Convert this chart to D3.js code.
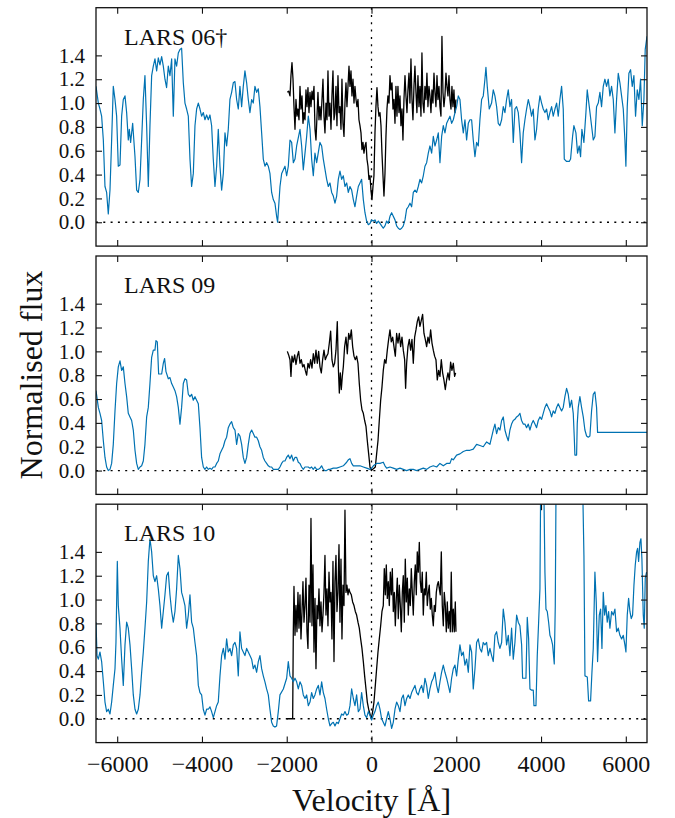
<!DOCTYPE html>
<html>
<head>
<meta charset="utf-8">
<script src="https://cdn.jsdelivr.net/npm/d3@7"></script>
<style>
  body { margin: 0; background: #fff; }
  text { font-family: "Liberation Serif", "Times New Roman", serif; fill: #111; }
</style>
</head>
<body>
<div id="chart"></div>
<script>
// Ly-alpha velocity profiles: wide (blue) and narrow (black) spectra for three galaxies
const panelNames = ["LARS 06\u2020", "LARS 09", "LARS 10"];
const xTicks = [-6000, -4000, -2000, 0, 2000, 4000, 6000];
const yTicks = [0.0, 0.2, 0.4, 0.6, 0.8, 1.0, 1.2, 1.4];

const lars06Blue = [[-6500,1.14],[-6445,1.0],[-6406,0.95],[-6367,0.89],[-6327,0.69],[-6288,0.30],[-6249,0.25],[-6210,0.07],[-6170,0.27],[-6131,0.69],[-6092,1.14],[-6052,1.03],[-6013,0.89],[-5974,0.47],[-5934,0.48],[-5895,0.89],[-5856,1.03],[-5816,1.06],[-5777,0.92],[-5738,0.69],[-5714,0.78],[-5683,0.67],[-5635,0.83],[-5580,0.55],[-5541,0.27],[-5502,0.25],[-5462,0.36],[-5423,0.69],[-5384,1.03],[-5345,1.23],[-5305,0.81],[-5266,0.30],[-5227,0.81],[-5187,1.23],[-5148,1.31],[-5109,1.37],[-5069,1.27],[-5030,1.38],[-4991,1.32],[-4951,1.39],[-4912,1.31],[-4873,1.20],[-4834,1.13],[-4794,1.31],[-4755,1.23],[-4715,1.37],[-4676,0.89],[-4637,1.37],[-4598,1.31],[-4558,1.42],[-4519,1.45],[-4480,1.46],[-4440,1.17],[-4401,1.0],[-4362,0.95],[-4322,0.89],[-4283,0.53],[-4244,0.30],[-4204,0.41],[-4165,0.81],[-4126,0.95],[-4086,1.0],[-4047,0.95],[-4008,0.89],[-3968,0.92],[-3929,0.86],[-3890,0.90],[-3850,0.86],[-3811,0.90],[-3772,0.81],[-3733,0.53],[-3693,0.30],[-3654,0.47],[-3615,0.78],[-3575,0.47],[-3536,0.27],[-3496,0.41],[-3457,0.75],[-3418,0.64],[-3379,0.78],[-3340,1.03],[-3300,1.09],[-3261,1.17],[-3222,1.18],[-3182,1.03],[-3143,0.95],[-3104,1.14],[-3064,0.97],[-3025,1.14],[-2986,1.27],[-2946,1.17],[-2907,1.03],[-2868,0.92],[-2828,1.03],[-2789,1.0],[-2750,1.14],[-2710,1.09],[-2671,1.12],[-2632,0.97],[-2592,0.75],[-2553,0.53],[-2514,0.47],[-2474,0.50],[-2435,0.47],[-2396,0.41],[-2356,0.25],[-2317,0.19],[-2278,0.16],[-2238,0.05],[-2215,0.0],[-2159,0.30],[-2119,0.41],[-2041,0.47],[-2002,0.39],[-1963,0.47],[-1923,0.69],[-1884,0.67],[-1844,0.50],[-1805,0.53],[-1766,0.64],[-1687,0.78],[-1648,0.64],[-1609,0.44],[-1569,0.58],[-1530,0.72],[-1491,0.89],[-1451,0.78],[-1412,0.53],[-1373,0.39],[-1334,0.58],[-1294,0.50],[-1216,0.67],[-1176,0.64],[-1137,0.53],[-1058,0.36],[-1019,0.30],[-980,0.33],[-940,0.25],[-901,0.22],[-862,0.16],[-822,0.22],[-783,0.36],[-744,0.43],[-704,0.36],[-665,0.39],[-626,0.30],[-586,0.33],[-547,0.25],[-508,0.30],[-468,0.27],[-429,0.19],[-390,0.13],[-351,0.22],[-311,0.30],[-272,0.33],[-233,0.36],[-193,0.19],[-154,0.08],[-115,0.01],[-75,-0.02],[-36,-0.01],[3,0.02],[43,0.01],[82,0.02],[121,-0.01],[161,0.01],[200,-0.01],[239,-0.03],[278,-0.05],[318,-0.03],[357,0.01],[397,-0.01],[436,0.05],[475,0.08],[514,0.05],[554,0.02],[593,-0.03],[632,-0.05],[672,-0.06],[711,-0.05],[750,-0.03],[790,0.02],[829,0.11],[868,0.13],[908,0.16],[947,0.13],[986,0.25],[1026,0.27],[1065,0.25],[1104,0.30],[1143,0.36],[1183,0.33],[1222,0.39],[1261,0.47],[1301,0.50],[1340,0.58],[1379,0.64],[1419,0.58],[1458,0.72],[1497,0.64],[1537,0.69],[1576,0.75],[1615,0.50],[1655,0.72],[1694,0.81],[1733,0.75],[1773,0.83],[1812,0.86],[1851,0.89],[1891,0.83],[1930,0.86],[1969,0.92],[2008,0.97],[2048,1.06],[2087,1.03],[2126,0.86],[2166,0.75],[2205,0.86],[2244,0.69],[2284,0.83],[2323,0.86],[2362,0.86],[2401,0.69],[2441,0.55],[2480,0.67],[2519,0.64],[2558,0.86],[2598,1.03],[2637,1.06],[2676,1.20],[2700,1.30],[2731,1.14],[2778,0.95],[2833,1.0],[2873,1.11],[2912,1.06],[2952,0.97],[2991,0.83],[3030,0.81],[3070,0.86],[3109,0.97],[3148,0.92],[3187,1.03],[3227,1.11],[3266,0.97],[3305,1.03],[3345,0.67],[3384,0.95],[3423,0.97],[3463,0.92],[3502,0.75],[3541,0.50],[3580,0.75],[3620,0.86],[3659,0.95],[3699,1.03],[3738,0.97],[3777,0.89],[3816,0.95],[3856,0.69],[3895,0.78],[3934,0.95],[3974,1.06],[4013,1.0],[4052,0.95],[4092,0.92],[4131,0.95],[4170,0.86],[4210,0.92],[4249,0.97],[4288,0.89],[4328,0.95],[4367,1.0],[4406,0.89],[4445,1.03],[4485,1.14],[4524,0.95],[4548,0.53],[4603,0.51],[4666,0.51],[4697,0.53],[4744,0.72],[4775,0.81],[4823,0.75],[4862,0.58],[4901,0.64],[4933,0.55],[4964,0.78],[5011,0.67],[5059,0.92],[5090,1.11],[5138,0.97],[5192,0.81],[5232,0.69],[5271,0.72],[5310,0.97],[5350,1.0],[5389,1.09],[5428,0.97],[5468,1.14],[5507,1.20],[5546,1.14],[5586,1.20],[5625,1.06],[5664,1.14],[5704,1.03],[5743,0.75],[5782,1.03],[5822,1.25],[5861,1.17],[5900,1.06],[5940,0.95],[5979,0.69],[6002,0.47],[6034,0.97],[6073,1.25],[6112,1.28],[6152,1.14],[6191,1.23],[6230,0.89],[6270,1.11],[6309,1.03],[6348,1.20],[6388,0.81],[6427,1.03],[6458,1.45],[6500,1.56]];

const lars06Black = [[-1986,1.09],[-1955,1.10],[-1923,1.06],[-1900,1.23],[-1876,1.34],[-1852,1.20],[-1829,0.97],[-1805,0.78],[-1782,1.03],[-1758,0.89],[-1735,0.95],[-1711,0.86],[-1687,1.14],[-1664,0.95],[-1640,1.06],[-1617,0.83],[-1593,0.92],[-1569,0.86],[-1546,1.11],[-1522,0.97],[-1499,1.13],[-1475,0.92],[-1451,1.09],[-1428,0.97],[-1404,1.10],[-1381,1.03],[-1357,1.14],[-1333,0.78],[-1310,0.69],[-1286,0.89],[-1263,1.09],[-1239,0.86],[-1216,0.97],[-1192,0.86],[-1168,1.03],[-1145,1.20],[-1121,0.89],[-1098,0.75],[-1074,1.00],[-1050,0.86],[-1027,1.27],[-1003,0.89],[-980,1.00],[-956,0.78],[-933,1.06],[-909,1.27],[-885,0.86],[-862,0.92],[-838,1.14],[-815,0.81],[-791,1.23],[-767,0.92],[-744,0.97],[-720,0.78],[-697,1.20],[-673,0.83],[-649,0.72],[-626,1.00],[-602,1.17],[-579,0.97],[-555,1.14],[-531,1.31],[-508,1.14],[-484,1.27],[-461,1.06],[-437,1.20],[-413,1.00],[-390,1.14],[-366,1.03],[-343,0.97],[-319,1.03],[-296,0.86],[-272,0.81],[-248,0.75],[-225,0.61],[-201,0.67],[-178,0.58],[-154,0.64],[-130,0.67],[-107,0.53],[-83,0.47],[-60,0.36],[-36,0.39],[-13,0.27],[11,0.19],[35,0.30],[58,0.39],[82,0.75],[105,0.97],[129,1.13],[153,0.97],[176,0.89],[200,0.92],[224,0.81],[247,0.58],[271,0.39],[294,0.22],[318,0.41],[341,0.72],[365,0.95],[388,1.06],[412,1.00],[436,1.23],[459,1.11],[483,1.17],[507,0.95],[530,1.03],[554,0.83],[577,1.14],[601,0.89],[624,1.14],[648,0.92],[672,1.06],[695,0.81],[719,0.95],[742,0.69],[766,1.03],[790,1.23],[813,1.06],[837,0.92],[860,1.11],[884,1.25],[907,1.00],[931,1.37],[955,1.03],[978,0.86],[1002,1.14],[1025,1.31],[1049,1.09],[1072,0.92],[1096,1.23],[1120,0.97],[1143,1.14],[1167,0.89],[1190,1.42],[1214,1.00],[1238,0.92],[1261,1.14],[1285,1.03],[1308,1.25],[1332,0.97],[1356,1.14],[1379,1.06],[1403,0.92],[1426,1.11],[1450,1.00],[1474,1.25],[1497,1.09],[1521,0.97],[1545,1.23],[1568,1.03],[1592,1.14],[1615,0.97],[1639,0.89],[1662,1.56],[1686,1.09],[1709,0.97],[1733,1.06],[1757,1.25],[1780,1.14],[1804,1.06],[1828,1.23],[1851,1.03],[1875,0.95],[1898,1.14],[1922,0.97],[1945,1.11],[1969,0.92],[1992,1.03]];

const lars09Blue = [[-6500,0.67],[-6445,0.53],[-6406,0.48],[-6367,0.42],[-6327,0.25],[-6288,0.11],[-6249,0.03],[-6210,0.0],[-6170,0.01],[-6131,0.06],[-6092,0.22],[-6052,0.50],[-6013,0.73],[-5974,0.87],[-5934,0.92],[-5895,0.84],[-5856,0.87],[-5816,0.73],[-5777,0.62],[-5738,0.48],[-5698,0.45],[-5659,0.42],[-5620,0.34],[-5580,0.17],[-5541,0.06],[-5502,0.01],[-5462,0.03],[-5423,0.04],[-5384,0.08],[-5345,0.22],[-5305,0.45],[-5266,0.53],[-5227,0.73],[-5187,0.95],[-5148,1.01],[-5109,1.01],[-5085,1.09],[-5054,1.08],[-5022,0.81],[-4991,0.81],[-4951,0.81],[-4912,0.90],[-4881,0.94],[-4849,0.83],[-4794,0.77],[-4755,0.78],[-4715,0.73],[-4676,0.70],[-4637,0.67],[-4598,0.62],[-4558,0.53],[-4519,0.39],[-4480,0.53],[-4440,0.73],[-4401,0.77],[-4362,0.76],[-4322,0.64],[-4283,0.62],[-4244,0.64],[-4204,0.59],[-4165,0.62],[-4126,0.59],[-4086,0.56],[-4047,0.36],[-4008,0.11],[-3968,0.03],[-3929,0.01],[-3890,0.03],[-3850,0.01],[-3811,0.02],[-3772,0.01],[-3733,0.03],[-3693,0.03],[-3654,0.06],[-3615,0.08],[-3575,0.14],[-3536,0.17],[-3496,0.20],[-3457,0.25],[-3418,0.28],[-3379,0.36],[-3340,0.39],[-3300,0.41],[-3261,0.36],[-3221,0.34],[-3182,0.22],[-3143,0.31],[-3104,0.29],[-3064,0.22],[-3025,0.11],[-2986,0.06],[-2946,0.11],[-2907,0.22],[-2868,0.31],[-2828,0.34],[-2789,0.31],[-2750,0.28],[-2710,0.28],[-2671,0.25],[-2632,0.20],[-2592,0.17],[-2553,0.11],[-2514,0.08],[-2474,0.06],[-2435,0.04],[-2396,0.03],[-2356,0.03],[-2317,0.01],[-2278,0.01],[-2238,0.01],[-2199,0.01],[-2160,0.03],[-2121,0.06],[-2081,0.08],[-2042,0.08],[-2003,0.11],[-1963,0.13],[-1924,0.10],[-1884,0.13],[-1845,0.08],[-1806,0.11],[-1766,0.11],[-1727,0.07],[-1688,0.06],[-1649,0.03],[-1609,0.01],[-1570,0.03],[-1531,0.03],[-1492,0.03],[-1452,0.02],[-1413,0.03],[-1374,0.01],[-1334,0.03],[-1295,0.01],[-1256,0.01],[-1216,0.02],[-1177,0.04],[-1138,0.01],[-1098,0.00],[-1059,0.00],[-1020,0.01],[-980,0.01],[-901,0.02],[-822,0.02],[-744,0.03],[-665,0.04],[-586,0.07],[-547,0.09],[-508,0.10],[-468,0.06],[-429,0.04],[-351,0.04],[-272,0.04],[-193,0.03],[-115,0.02],[-36,0.01],[3,0.02],[43,0.04],[121,0.06],[200,0.06],[278,0.07],[318,0.04],[357,0.02],[436,0.03],[514,0.02],[593,0.01],[672,0.02],[750,0.01],[829,0.00],[908,0.01],[986,0.01],[1065,0.00],[1143,0.01],[1222,0.02],[1301,0.01],[1379,0.03],[1458,0.04],[1537,0.03],[1615,0.06],[1694,0.04],[1773,0.06],[1851,0.06],[1891,0.10],[1930,0.09],[2008,0.13],[2087,0.14],[2166,0.16],[2244,0.17],[2323,0.17],[2401,0.18],[2480,0.22],[2558,0.21],[2637,0.20],[2716,0.24],[2794,0.22],[2873,0.34],[2912,0.39],[2952,0.31],[2991,0.36],[3030,0.34],[3070,0.42],[3109,0.45],[3148,0.34],[3187,0.29],[3227,0.25],[3266,0.34],[3305,0.39],[3345,0.42],[3384,0.43],[3423,0.45],[3463,0.46],[3502,0.48],[3541,0.42],[3580,0.39],[3620,0.39],[3659,0.36],[3699,0.39],[3738,0.34],[3777,0.39],[3816,0.42],[3856,0.39],[3895,0.36],[3934,0.42],[3974,0.45],[4013,0.43],[4052,0.48],[4092,0.53],[4131,0.56],[4170,0.53],[4210,0.50],[4249,0.45],[4288,0.50],[4328,0.48],[4367,0.53],[4406,0.56],[4445,0.53],[4485,0.50],[4524,0.53],[4563,0.62],[4603,0.69],[4642,0.64],[4681,0.53],[4721,0.59],[4760,0.48],[4784,0.28],[4799,0.13],[4839,0.13],[4854,0.39],[4878,0.53],[4917,0.62],[4956,0.53],[4996,0.45],[5035,0.34],[5075,0.29],[5114,0.28],[5153,0.29],[5192,0.50],[5232,0.64],[5271,0.66],[5310,0.53],[5334,0.32],[6500,0.32]];

const lars09Black = [[-1986,1.00],[-1955,0.97],[-1923,0.93],[-1900,0.79],[-1876,0.96],[-1845,0.91],[-1813,0.97],[-1782,0.89],[-1750,0.96],[-1719,1.00],[-1687,0.90],[-1656,0.93],[-1624,0.87],[-1593,0.89],[-1562,0.84],[-1530,0.80],[-1499,0.90],[-1467,0.86],[-1436,0.93],[-1404,0.86],[-1373,0.98],[-1341,0.90],[-1310,1.01],[-1279,0.90],[-1247,1.00],[-1216,0.87],[-1184,0.82],[-1153,0.93],[-1121,1.01],[-1090,0.93],[-1058,0.96],[-1027,0.98],[-995,1.07],[-964,1.17],[-933,0.93],[-901,0.87],[-870,0.90],[-838,1.01],[-807,1.25],[-783,0.87],[-759,0.65],[-736,0.82],[-712,0.68],[-689,0.79],[-665,0.87],[-634,1.04],[-602,1.12],[-571,0.98],[-539,1.15],[-508,1.10],[-476,1.18],[-445,1.04],[-413,0.96],[-382,0.93],[-351,0.96],[-319,0.90],[-288,0.73],[-256,0.59],[-225,0.51],[-193,0.48],[-162,0.42],[-130,0.37],[-99,0.25],[-67,0.14],[-36,0.03],[-4,0.00],[27,0.01],[58,0.02],[90,0.03],[121,0.14],[153,0.25],[184,0.42],[216,0.59],[247,0.70],[278,0.84],[310,0.93],[341,0.90],[373,1.01],[404,1.10],[436,1.18],[467,1.08],[499,1.12],[530,1.04],[562,0.96],[593,1.15],[625,1.07],[656,1.15],[687,1.04],[719,1.12],[750,1.01],[782,0.93],[805,0.69],[829,0.90],[860,1.04],[892,1.10],[923,1.01],[955,1.10],[986,0.90],[1018,1.12],[1049,1.18],[1080,1.25],[1112,1.29],[1143,1.21],[1175,1.26],[1206,1.31],[1238,1.15],[1269,1.10],[1301,1.04],[1332,1.12],[1364,1.07],[1395,1.18],[1427,1.07],[1458,1.01],[1489,0.96],[1521,0.93],[1552,0.76],[1584,0.84],[1615,0.79],[1647,0.93],[1678,0.82],[1709,0.76],[1741,0.68],[1772,0.76],[1804,0.82],[1835,0.76],[1867,0.91],[1898,0.84],[1930,0.90],[1961,0.79],[1985,0.82]];

const lars10Blue = [[-6500,0.81],[-6476,0.53],[-6445,0.50],[-6406,0.56],[-6367,0.48],[-6327,0.31],[-6288,0.14],[-6249,0.06],[-6210,0.08],[-6170,0.04],[-6131,0.14],[-6092,0.28],[-6052,0.42],[-6029,0.64],[-5997,1.32],[-5974,0.95],[-5934,0.76],[-5895,0.50],[-5856,0.28],[-5816,0.62],[-5777,0.81],[-5738,0.76],[-5698,0.62],[-5659,0.42],[-5620,0.20],[-5580,0.08],[-5541,0.04],[-5502,0.08],[-5462,0.20],[-5423,0.39],[-5384,0.56],[-5345,0.76],[-5305,0.98],[-5266,1.32],[-5227,1.51],[-5187,1.40],[-5148,1.20],[-5109,1.15],[-5069,1.20],[-5030,1.09],[-4991,0.95],[-4951,0.76],[-4912,0.90],[-4873,1.04],[-4834,1.20],[-4794,1.23],[-4755,1.04],[-4715,0.90],[-4676,0.81],[-4637,0.90],[-4598,1.09],[-4558,1.37],[-4519,1.26],[-4480,1.06],[-4441,1.01],[-4401,0.95],[-4362,0.76],[-4322,0.87],[-4283,1.04],[-4244,0.81],[-4204,0.76],[-4165,0.64],[-4126,0.53],[-4086,0.28],[-4047,0.22],[-4008,0.20],[-3969,0.08],[-3929,0.03],[-3890,0.08],[-3850,0.08],[-3811,0.10],[-3772,0.06],[-3732,0.01],[-3693,0.06],[-3654,0.11],[-3615,0.14],[-3575,0.36],[-3536,0.53],[-3496,0.59],[-3457,0.50],[-3418,0.67],[-3379,0.56],[-3339,0.59],[-3300,0.53],[-3261,0.62],[-3221,0.64],[-3182,0.59],[-3143,0.36],[-3104,0.73],[-3064,0.59],[-3025,0.56],[-2986,0.53],[-2946,0.59],[-2907,0.56],[-2868,0.53],[-2828,0.50],[-2789,0.42],[-2750,0.45],[-2710,0.39],[-2671,0.48],[-2632,0.53],[-2592,0.42],[-2553,0.36],[-2514,0.31],[-2475,0.25],[-2435,0.20],[-2396,0.08],[-2356,-0.03],[-2317,-0.06],[-2278,-0.07],[-2239,-0.06],[-2199,0.06],[-2160,0.20],[-2080,0.25],[-2002,0.34],[-1963,0.48],[-1923,0.36],[-1884,0.34],[-1844,0.31],[-1805,0.34],[-1766,0.31],[-1727,0.25],[-1687,0.31],[-1648,0.28],[-1609,0.20],[-1569,0.17],[-1530,0.20],[-1491,0.11],[-1451,0.14],[-1412,0.22],[-1373,0.17],[-1334,0.20],[-1294,0.25],[-1255,0.28],[-1216,0.20],[-1176,0.31],[-1137,0.22],[-1098,0.17],[-1058,0.08],[-1019,0.00],[-980,-0.06],[-940,-0.04],[-901,-0.03],[-862,-0.06],[-822,-0.03],[-783,-0.04],[-744,0.00],[-705,0.04],[-665,0.03],[-626,0.06],[-586,0.03],[-547,0.04],[-508,0.11],[-469,0.25],[-429,0.17],[-390,0.11],[-351,0.20],[-311,0.06],[-272,0.08],[-233,0.22],[-193,0.11],[-154,0.03],[-115,0.01],[-75,0.06],[-36,0.03],[3,-0.01],[43,0.03],[82,0.06],[121,0.11],[160,0.14],[200,0.08],[239,0.00],[278,-0.03],[318,-0.06],[357,0.00],[396,0.06],[436,0.00],[475,-0.08],[514,-0.03],[554,0.08],[593,0.14],[632,0.11],[672,0.06],[711,0.17],[750,0.20],[790,0.11],[829,0.17],[868,0.20],[908,0.17],[947,0.22],[986,0.25],[1025,0.28],[1065,0.22],[1104,0.20],[1143,0.25],[1183,0.28],[1222,0.22],[1261,0.34],[1301,0.28],[1340,0.17],[1379,0.25],[1419,0.31],[1458,0.34],[1497,0.39],[1537,0.28],[1576,0.22],[1615,0.31],[1654,0.39],[1694,0.45],[1733,0.39],[1773,0.34],[1812,0.28],[1851,0.22],[1890,0.34],[1930,0.42],[1969,0.45],[2008,0.36],[2048,0.50],[2087,0.62],[2126,0.53],[2166,0.56],[2205,0.45],[2244,0.50],[2284,0.39],[2323,0.62],[2362,0.56],[2401,0.25],[2441,0.42],[2480,0.64],[2519,0.67],[2558,0.59],[2598,0.56],[2637,0.64],[2676,0.62],[2716,0.64],[2755,0.53],[2794,0.59],[2834,0.53],[2873,0.48],[2912,0.70],[2952,0.73],[2991,0.64],[3030,0.59],[3070,0.64],[3109,0.92],[3148,0.81],[3187,0.62],[3227,0.70],[3266,0.53],[3305,0.76],[3345,0.50],[3384,0.64],[3424,0.87],[3463,0.81],[3502,0.78],[3542,0.62],[3565,0.34],[3644,0.34],[3660,0.59],[3675,0.85],[3707,0.67],[3738,0.25],[3778,0.24],[3817,0.24],[3833,0.11],[3880,0.11],[3911,0.53],[3943,0.81],[3974,1.09],[3998,2.3],[4053,2.3],[4092,1.23],[4116,0.92],[4147,0.90],[4179,0.81],[4210,0.70],[4241,0.67],[4273,0.62],[4312,0.46],[4336,0.95],[4360,2.3],[4965,2.3],[5012,1.37],[5036,0.36],[5091,0.35],[5122,0.15],[5169,0.15],[5201,0.39],[5232,0.59],[5271,1.23],[5303,0.98],[5334,0.48],[5374,0.87],[5405,0.92],[5437,0.59],[5468,1.06],[5500,0.87],[5531,0.95],[5562,0.81],[5594,0.90],[5625,0.76],[5665,0.90],[5704,0.87],[5743,0.92],[5783,0.73],[5822,0.76],[5861,0.70],[5901,0.67],[5940,0.70],[5979,0.62],[6003,0.56],[6034,0.87],[6066,1.01],[6097,0.90],[6129,0.84],[6160,0.87],[6192,1.12],[6223,1.29],[6255,1.40],[6278,1.43],[6302,1.32],[6333,1.48],[6357,1.51],[6380,1.34],[6412,0.87],[6435,0.76],[6459,1.18],[6490,1.23]];

const lars10Black = [[-2002,0.0],[-1860,0.0],[-1845,0.73],[-1829,1.11],[-1805,0.70],[-1782,0.95],[-1758,0.73],[-1735,1.06],[-1711,0.76],[-1687,1.04],[-1664,0.67],[-1640,0.90],[-1617,1.15],[-1593,0.81],[-1569,0.95],[-1546,1.18],[-1522,0.73],[-1499,0.59],[-1475,1.12],[-1451,0.81],[-1428,1.68],[-1404,0.78],[-1381,1.29],[-1357,0.56],[-1333,1.01],[-1310,0.42],[-1286,0.95],[-1263,0.84],[-1239,1.09],[-1216,0.78],[-1192,0.98],[-1168,0.73],[-1145,0.87],[-1121,1.06],[-1098,1.37],[-1074,0.87],[-1050,1.09],[-1027,0.78],[-1003,1.23],[-980,0.98],[-956,1.06],[-933,0.67],[-909,1.32],[-885,0.48],[-862,1.15],[-838,1.37],[-815,0.90],[-791,1.06],[-767,1.46],[-744,0.81],[-720,1.34],[-697,0.67],[-673,1.12],[-649,0.95],[-626,1.75],[-602,1.06],[-579,1.12],[-555,1.04],[-531,1.09],[-508,1.06],[-476,1.04],[-445,0.98],[-413,0.95],[-382,0.90],[-351,0.87],[-319,0.81],[-288,0.76],[-256,0.67],[-225,0.59],[-193,0.48],[-162,0.36],[-130,0.25],[-99,0.14],[-67,0.08],[-36,0.04],[-4,0.00],[27,0.06],[58,0.14],[90,0.28],[121,0.42],[153,0.56],[184,0.67],[216,0.78],[247,0.90],[278,0.95],[302,1.26],[326,1.04],[349,1.29],[373,1.01],[396,1.15],[420,0.95],[444,1.23],[467,1.04],[491,1.26],[514,0.90],[538,1.06],[562,0.78],[585,1.01],[609,1.18],[632,0.84],[656,1.12],[680,0.95],[703,0.73],[727,1.06],[750,1.20],[774,0.81],[797,1.34],[821,0.98],[845,1.18],[868,0.87],[892,1.09],[915,0.95],[939,1.26],[963,1.06],[986,0.87],[1010,1.15],[1033,1.29],[1057,1.04],[1080,1.40],[1104,1.23],[1128,1.48],[1151,1.15],[1175,1.06],[1198,1.23],[1222,0.87],[1246,1.09],[1269,1.04],[1293,1.23],[1316,0.95],[1340,1.06],[1363,1.12],[1387,0.92],[1411,1.01],[1434,0.87],[1458,0.78],[1481,0.95],[1505,0.90],[1529,1.06],[1552,1.12],[1576,1.15],[1600,1.09],[1623,1.04],[1647,1.40],[1670,0.95],[1694,0.78],[1717,1.06],[1741,0.95],[1765,0.73],[1788,0.98],[1812,0.76],[1835,0.90],[1859,0.73],[1882,1.23],[1906,0.73],[1930,0.92],[1953,0.73],[1977,0.98],[1993,0.73]];

const panelBlue = [lars06Blue, lars09Blue, lars10Blue];
const panelBlack = [lars06Black, lars09Black, lars10Black];

const width = 675, height = 818;
const left = 96, plotW = 551, plotH = 238.4;
const panelTop = [7.7, 256, 504.2];

const svg = d3.select("#chart")
  .append("svg")
  .attr("width", width)
  .attr("height", height);

const x = d3.scaleLinear().domain([-6500, 6500]).range([0, plotW]);
const y = d3.scaleLinear().domain([-0.2, 1.8]).range([plotH, 0]);

const line = d3.line()
  .x(d => x(d[0]))
  .y(d => y(d[1]));

panelNames.forEach((name, i) => {
  const g = svg.append("g")
    .attr("transform", `translate(${left},${panelTop[i]})`);

  svg.append("clipPath")
    .attr("id", "clip" + i)
    .append("rect")
    .attr("width", plotW)
    .attr("height", plotH);

  const plot = g.append("g").attr("clip-path", `url(#clip${i})`);

  // reference lines
  plot.append("line")
    .attr("x1", 0).attr("x2", plotW)
    .attr("y1", y(0)).attr("y2", y(0))
    .attr("stroke", "#000")
    .attr("stroke-width", 1.3)
    .attr("stroke-dasharray", "2,5.3");

  plot.append("line")
    .attr("x1", x(0)).attr("x2", x(0))
    .attr("y1", 0).attr("y2", plotH)
    .attr("stroke", "#000")
    .attr("stroke-width", 1.3)
    .attr("stroke-dasharray", "2,5.3");

  plot.append("path")
    .datum(panelBlack[i])
    .attr("d", line)
    .attr("fill", "none")
    .attr("stroke", "#000")
    .attr("stroke-width", 1.3)
    .attr("stroke-linejoin", "round");

  plot.append("path")
    .datum(panelBlue[i])
    .attr("d", line)
    .attr("fill", "none")
    .attr("stroke", "#0072b2")
    .attr("stroke-width", 1.2)
    .attr("stroke-linejoin", "round");

  // axes: inward ticks on all four sides
  g.append("g")
    .attr("class", "yax")
    .call(d3.axisLeft(y).tickValues(yTicks).tickSize(-6).tickSizeOuter(0).tickPadding(11).tickFormat(d3.format(".1f")));
  g.append("g")
    .attr("transform", `translate(${plotW},0)`)
    .call(d3.axisRight(y).tickValues(yTicks).tickSize(-6).tickSizeOuter(0).tickFormat(""));
  g.append("g")
    .call(d3.axisTop(x).tickValues(xTicks).tickSize(-6).tickSizeOuter(0).tickFormat(""));
  g.append("g")
    .attr("class", "xax")
    .attr("transform", `translate(0,${plotH})`)
    .call(d3.axisBottom(x).tickValues(xTicks).tickSize(-6).tickSizeOuter(0).tickPadding(12)
      .tickFormat(i === 2 ? d3.format("d") : ""));

  g.selectAll(".domain").remove();
  g.selectAll(".tick line").attr("stroke", "#111").attr("stroke-width", 1.1);
  g.selectAll(".tick text")
    .style("font-family", "'Liberation Serif', serif")
    .attr("fill", "#111");
  g.selectAll(".yax .tick text").style("font-size", "21px");
  g.selectAll(".xax .tick text").style("font-size", "24px");

  g.append("rect")
    .attr("width", plotW)
    .attr("height", plotH)
    .attr("fill", "none")
    .attr("stroke", "#111")
    .attr("stroke-width", 1.3);

  g.append("text")
    .attr("x", 28)
    .attr("y", 37)
    .style("font-size", "24px")
    .text(name);
});

svg.append("text")
  .attr("x", left + x(0))
  .attr("y", 811)
  .attr("text-anchor", "middle")
  .style("font-size", "32px")
  .text("Velocity [\u00c5]");

svg.append("text")
  .attr("transform", "translate(42,375) rotate(-90)")
  .attr("text-anchor", "middle")
  .style("font-size", "32px")
  .text("Normalised flux");
</script>
</body>
</html>
